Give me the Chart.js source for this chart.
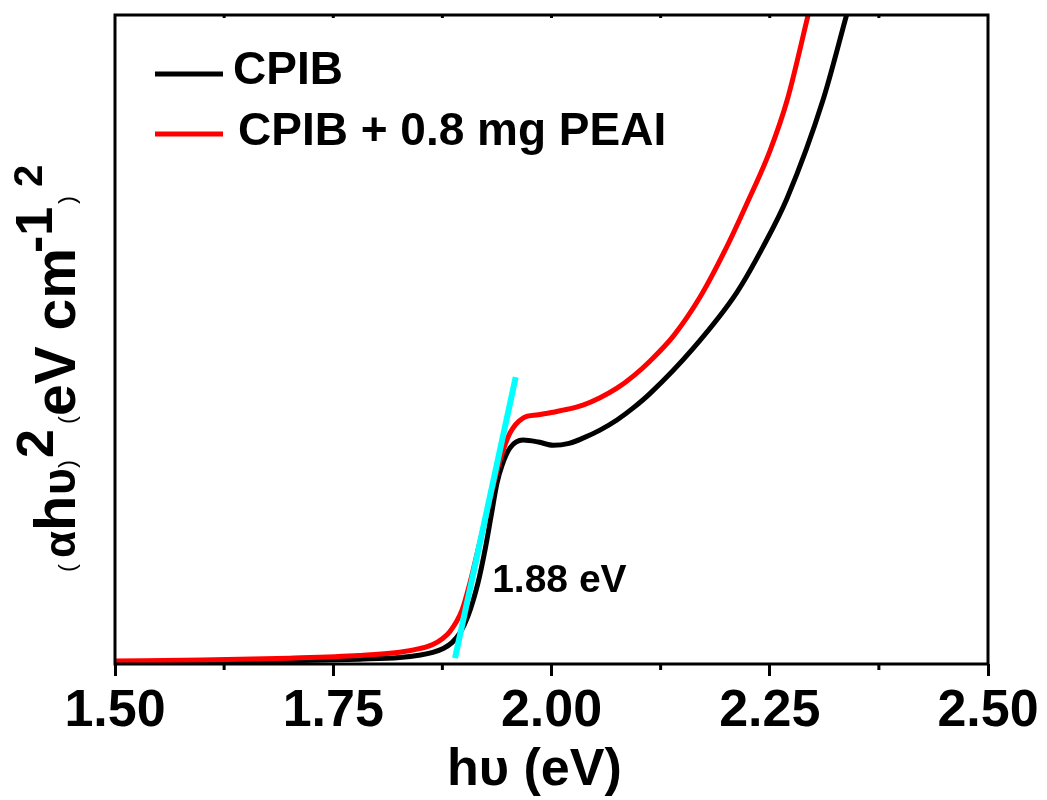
<!DOCTYPE html>
<html>
<head>
<meta charset="utf-8">
<script src="https://cdn.jsdelivr.net/npm/chart.js@4/dist/chart.umd.min.js"></script>
<style>
  html, body { margin: 0; padding: 0; background: #fff; }
  #wrap { width: 1047px; height: 800px; position: relative; }
</style>
</head>
<body>
<div id="wrap"><canvas id="taucChart"></canvas></div>
<script>
// Photon energy (eV) and (αhυ)² values, arbitrary units 0..100
const energyCPIB = [1.50, 1.60, 1.70, 1.78, 1.826, 1.85, 1.864, 1.876, 1.886, 1.8952, 1.9044, 1.9158, 1.9239, 1.9307, 1.9376, 1.9433, 1.9525, 1.9674, 1.985, 2.002, 2.02, 2.036, 2.055, 2.075, 2.094, 2.113, 2.162, 2.212, 2.242, 2.27, 2.311, 2.338];
const absCPIB = [0.3, 0.35, 0.5, 0.75, 1.0, 1.4, 1.8, 2.4, 3.3, 4.8, 7.4, 12.5, 17.6, 22.7, 27.9, 30.6, 33.3, 34.5, 34.2, 33.7, 34.0, 34.8, 36.0, 37.6, 39.5, 41.7, 48.6, 57.2, 64.2, 71.8, 86.9, 100];

const energyPEAI = [1.50, 1.60, 1.70, 1.78, 1.826, 1.85, 1.864, 1.875, 1.8837, 1.8975, 1.9066, 1.9158, 1.925, 1.9341, 1.941, 1.9525, 1.9674, 1.985, 2.002, 2.02, 2.036, 2.055, 2.075, 2.094, 2.113, 2.14, 2.17, 2.199, 2.224, 2.25, 2.27, 2.294];
const absPEAI = [0.45, 0.6, 0.9, 1.3, 1.8, 2.4, 3.0, 3.9, 5.0, 8.3, 12.5, 17.6, 22.7, 27.9, 31.4, 35.6, 37.9, 38.4, 38.8, 39.3, 39.9, 41.0, 42.5, 44.4, 46.7, 50.6, 56.5, 63.8, 71.0, 79.0, 86.9, 100];

// linear fit of the absorption edge
const fitEnergy = [1.8895, 1.959];
const fitAbs = [0.9, 44.2];

const seriesLabels = ['CPIB', 'CPIB + 0.8 mg PEAI'];
const seriesColors = ['#000000', '#ff0000'];
const fitColor = '#00ffff';

const xTicks = [1.50, 1.75, 2.00, 2.25, 2.50];
const minorTicks = [1.625, 1.875, 2.125, 2.375];

const gapLabel = '1.88 eV';
const gapLabelAt = { x: 1.932, y: 11.1 };

const FONT = '"Liberation Sans", Arial, sans-serif';

function toPoints(xs, ys) {
  return xs.map((x, i) => ({ x: x, y: ys[i] }));
}

// frame, minor ticks, legend, axis titles, annotation
const decorations = {
  id: 'decorations',
  afterDraw(chart) {
    const ctx = chart.ctx;
    const area = chart.chartArea;
    const xs = chart.scales.x;
    const ys = chart.scales.y;
    ctx.save();

    // box around plot
    ctx.strokeStyle = '#000';
    ctx.lineWidth = 3;
    ctx.strokeRect(area.left, area.top, area.right - area.left, area.bottom - area.top);

    // minor ticks on bottom, small inner ticks on top
    ctx.beginPath();
    minorTicks.forEach((v) => {
      const px = xs.getPixelForValue(v);
      ctx.moveTo(px, area.bottom);
      ctx.lineTo(px, area.bottom + 6);
    });
    minorTicks.concat(xTicks.slice(1, -1)).forEach((v) => {
      const px = xs.getPixelForValue(v);
      ctx.moveTo(px, area.top);
      ctx.lineTo(px, area.top + 3);
    });
    ctx.stroke();

    // legend
    const legendRows = [{ line: 74, text: 233, base: 84 }, { line: 134, text: 238, base: 145 }];
    ctx.lineWidth = 5;
    ctx.font = 'bold 46px ' + FONT;
    ctx.fillStyle = '#000';
    ctx.textBaseline = 'alphabetic';
    ctx.textAlign = 'left';
    seriesLabels.forEach((label, i) => {
      const row = legendRows[i];
      ctx.strokeStyle = seriesColors[i];
      ctx.beginPath();
      ctx.moveTo(155, row.line);
      ctx.lineTo(223, row.line);
      ctx.stroke();
      ctx.fillText(label, row.text, row.base);
    });

    // band gap annotation
    ctx.font = 'bold 39px ' + FONT;
    ctx.fillText(gapLabel, xs.getPixelForValue(gapLabelAt.x), ys.getPixelForValue(gapLabelAt.y));

    // x title
    ctx.font = 'bold 52px ' + FONT;
    ctx.fillText('h\u03c5 (eV)', 447, 785);

    // y title, rotated, built from pieces
    ctx.rotate(-Math.PI / 2);
    const startY = 572;
    const pieces = [
      { t: '(', f: '24px ' + FONT, u: 0, b: 75 },
      { t: '\u03b1', f: 'bold 44px ' + FONT, u: 14, b: 75 },
      { t: 'h', f: 'bold 58px ' + FONT, u: 41, b: 75 },
      { t: '\u03c5', f: 'bold 46px ' + FONT, u: 77, b: 75 },
      { t: ')', f: '24px ' + FONT, u: 104, b: 75 },
      { t: '2', f: 'bold 52px ' + FONT, u: 114, b: 53 },
      { t: '(', f: '24px ' + FONT, u: 148, b: 75 },
      { t: 'eV cm', f: 'bold 57px ' + FONT, u: 156, b: 75 },
      { t: '-1', f: 'bold 52px ' + FONT, u: 319, b: 52 },
      { t: ')', f: '24px ' + FONT, u: 368, b: 75 },
      { t: '2', f: 'bold 40px ' + FONT, u: 385, b: 42 }
    ];
    pieces.forEach((p) => {
      ctx.font = p.f;
      ctx.fillText(p.t, p.u - startY, p.b);
    });

    ctx.restore();
  }
};

const ctx = document.getElementById('taucChart').getContext('2d');
new Chart(ctx, {
  type: 'line',
  data: {
    datasets: [
      {
        label: 'fit',
        data: toPoints(fitEnergy, fitAbs),
        borderColor: fitColor,
        borderWidth: 6,
        pointRadius: 0,
        tension: 0,
      },
      {
        label: seriesLabels[1],
        data: toPoints(energyPEAI, absPEAI),
        borderColor: seriesColors[1],
        borderWidth: 5,
        pointRadius: 0,
        cubicInterpolationMode: 'monotone',
      },
      {
        label: seriesLabels[0],
        data: toPoints(energyCPIB, absCPIB),
        borderColor: seriesColors[0],
        borderWidth: 5,
        pointRadius: 0,
        cubicInterpolationMode: 'monotone',
      },
    ],
  },
  options: {
    responsive: true,
    maintainAspectRatio: false,
    animation: false,
    events: [],
    layout: {
      padding: { left: 115, right: 59, top: 15, bottom: 0 },
    },
    scales: {
      x: {
        type: 'linear',
        min: 1.5,
        max: 2.5,
        afterFit: (scale) => { scale.height = 136; },
        afterBuildTicks: (scale) => { scale.ticks = xTicks.map((v) => ({ value: v })); },
        border: { display: false },
        grid: {
          display: true,
          drawOnChartArea: false,
          drawTicks: true,
          tickLength: 12,
          tickWidth: 3,
          tickColor: '#000',
        },
        ticks: {
          color: '#000',
          padding: 4,
          maxRotation: 0,
          font: { family: FONT, size: 52, weight: 'bold' },
          callback: (v) => Number(v).toFixed(2),
        },
      },
      y: {
        display: false,
        min: 0,
        max: 100,
      },
    },
    plugins: {
      legend: { display: false },
      tooltip: { enabled: false },
    },
  },
  plugins: [decorations],
});
</script>
</body>
</html>
